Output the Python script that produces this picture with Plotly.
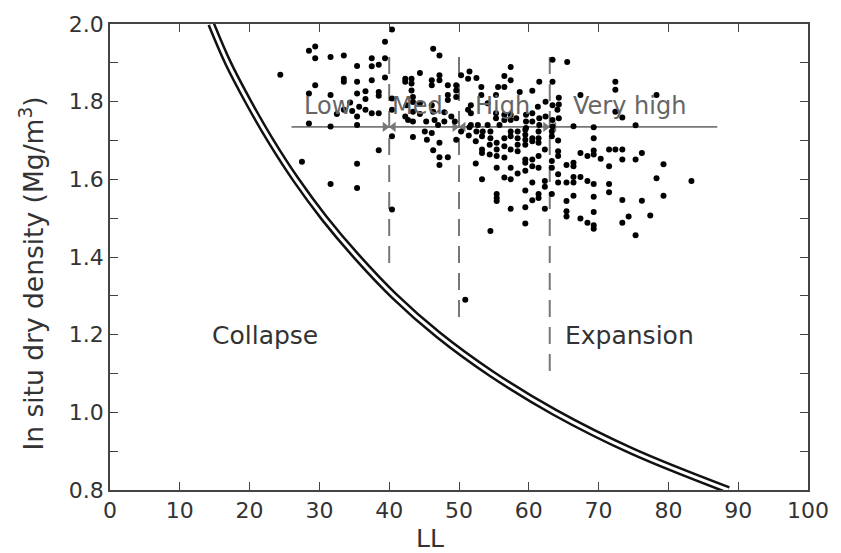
import plotly.graph_objects as go

# ---- data ----
LL = [24.4, 28.5, 29.4, 29.4, 31.6, 33.5, 35.4, 37.5, 38.5, 37.5, 39.4, 39.4, 40.4,
      33.5, 33.5, 35.4, 37.5, 39.4, 29.4, 28.5, 31.6, 35.4, 36.6, 38.5, 38.5, 36.6,
      34.4, 35.7, 33.5, 32.5, 34.7, 35.4, 36.6, 37.5, 38.5, 28.5, 31.6, 35.4, 40.4,
      40.4, 40.4, 42.3, 42.3, 43.2, 43.2, 44.4, 43.2, 42.5, 43.4, 44.4, 42.3, 46.1,
      46.1, 47.2, 47.2, 46.3, 47.2, 43.4, 45.1, 46.1, 48.4, 48.4, 48.4, 46.1, 46.5,
      48.9,
      27.5, 35.4, 31.6, 35.4, 38.5, 40.4, 43.4, 45.4, 47.2, 46.3, 47.2, 48.4, 47.2,
      49.6, 51.4, 52.4, 53.3, 53.3, 53.3, 52.4, 53.3,
      51.5, 52.5, 53.4, 54.5, 54.5, 54.5, 55.4, 55.4, 55.4, 55.4, 55.4, 55.4, 55.4,
      56.5, 56.5, 56.5, 56.5, 57.4, 57.4, 57.4, 57.4, 57.4, 57.4, 58.4, 58.4, 58.4,
      58.4, 58.4, 59.5, 59.5, 59.5, 59.5, 59.5, 59.5, 59.5, 59.5, 59.5, 59.5, 60.5,
      60.5, 60.5, 60.5, 60.5, 60.5, 61.4, 61.4, 61.4, 61.4, 61.4, 61.4, 61.4, 62.3,
      62.3, 62.3, 62.3, 63.3, 63.3, 63.3, 63.3, 63.3, 64.2, 64.2, 64.2, 64.2, 64.2,
      65.4, 65.4, 65.4, 65.4, 65.4, 66.4, 66.4, 66.4, 66.4, 66.4, 66.4, 67.4, 67.4,
      67.4, 68.4, 68.4, 68.4, 69.3, 69.3, 69.3, 69.3, 69.3, 69.3, 69.3, 69.3, 69.3,
      70.3, 71.5, 72.4, 73.4, 71.5, 71.5, 71.5, 73.4, 73.4, 73.4, 74.3, 75.3, 54.4,
      54.4,
      78.3, 73.4, 75.3, 76.2, 75.3, 79.3, 78.3, 83.3, 79.3, 76.2, 77.4,
      50.3, 51.5, 52.5, 57.4, 56.5, 57.4, 63.4, 65.5, 61.5, 63.4, 72.4, 72.4, 53.2,
      55.6, 56.5, 60.5, 67.4, 49.6, 49.6, 49.6, 51.7, 53.2, 55.3, 62.4, 64.3, 64.3,
      63.4, 64.1, 72.4, 47.9, 47.9, 49.4, 51.7, 55.3, 55.3, 56.5, 56.5, 57.4, 57.4,
      59.6, 59.6, 60.5, 60.5, 61.5, 61.5, 63.4, 63.4, 51.7, 52.7, 54.1, 50.3, 47.0,
      51.3, 43.4, 43.4, 44.4, 46.3, 45.3, 42.7, 51.3,
      58.7, 61.3, 54.1, 55.8, 58.2, 59.6, 62.4, 64.3,
      50.9]
RHO = [1.869, 1.931, 1.942, 1.912, 1.915, 1.919, 1.892, 1.912, 1.895, 1.891, 1.912, 1.954, 1.986,
       1.859, 1.851, 1.851, 1.855, 1.862, 1.842, 1.821, 1.817, 1.821, 1.827, 1.825, 1.815, 1.807,
       1.798, 1.787, 1.779, 1.768, 1.776, 1.762, 1.779, 1.770, 1.770, 1.744, 1.736, 1.740, 1.779,
       1.808, 1.711, 1.859, 1.851, 1.859, 1.847, 1.874, 1.829, 1.791, 1.774, 1.768, 1.762, 1.855,
       1.842, 1.868, 1.855, 1.936, 1.919, 1.749, 1.723, 1.719, 1.842, 1.817, 1.804, 1.791, 1.753,
       1.762,
       1.645, 1.640, 1.588, 1.578, 1.675, 1.522, 1.709, 1.702, 1.694, 1.675, 1.657, 1.657, 1.637,
       1.702, 1.713, 1.698, 1.711, 1.677, 1.668, 1.641, 1.600,
       1.734, 1.723, 1.723, 1.723, 1.706, 1.467, 1.694, 1.677, 1.660, 1.630, 1.562, 1.552, 1.544,
       1.706, 1.685, 1.656, 1.605, 1.723, 1.711, 1.677, 1.630, 1.600, 1.524, 1.723, 1.706, 1.689,
       1.672, 1.615, 1.728, 1.715, 1.702, 1.689, 1.651, 1.643, 1.622, 1.571, 1.528, 1.486, 1.706,
       1.698, 1.651, 1.634, 1.592, 1.546, 1.723, 1.706, 1.694, 1.660, 1.630, 1.562, 1.552, 1.677,
       1.596, 1.581, 1.524, 1.723, 1.711, 1.647, 1.630, 1.562, 1.700, 1.672, 1.660, 1.613, 1.592,
       1.637, 1.592, 1.544, 1.518, 1.504, 1.737, 1.643, 1.634, 1.606, 1.592, 1.558, 1.668, 1.606,
       1.499, 1.660, 1.596, 1.488, 1.734, 1.706, 1.674, 1.664, 1.588, 1.555, 1.516, 1.482, 1.473,
       1.653, 1.677, 1.677, 1.677, 1.634, 1.588, 1.567, 1.651, 1.547, 1.488, 1.504, 1.456, 1.689,
       1.664,
       1.817, 1.759, 1.739, 1.668, 1.651, 1.639, 1.603, 1.596, 1.558, 1.545, 1.507,
       1.868, 1.878, 1.861, 1.889, 1.866, 1.855, 1.908, 1.902, 1.851, 1.851, 1.851, 1.831, 1.838,
       1.838, 1.838, 1.828, 1.817, 1.842, 1.829, 1.812, 1.791, 1.817, 1.817, 1.800, 1.810, 1.793,
       1.791, 1.779, 1.774, 1.773, 1.749, 1.749, 1.770, 1.770, 1.757, 1.766, 1.753, 1.766, 1.753,
       1.766, 1.749, 1.770, 1.749, 1.757, 1.740, 1.753, 1.736, 1.740, 1.740, 1.740, 1.723, 1.740,
       1.859, 1.812, 1.799, 1.796, 1.774, 1.749, 1.753, 1.779,
       1.825, 1.787, 1.796, 1.740, 1.757, 1.732, 1.762, 1.757,
       1.290]

# boundary curve (saturated at liquid limit)
CURVE_LL = [14.5, 16.9, 19.8, 23.0, 26.6, 30.7, 35.4, 40.7, 47.0, 54.6, 63.7, 74.8, 88.6]
CURVE_RHO = [2.0, 1.9, 1.8, 1.7, 1.6, 1.5, 1.4, 1.3, 1.2, 1.1, 1.0, 0.9, 0.8]

# class boundaries and the horizontal divider
BOUND_LL = [40, 50, 63]
BOUND_TOP = [1.915, 1.915, 1.915]
BOUND_BOTTOM = [1.379, 1.231, 1.104]
DIVIDER_LL = [26, 87]
DIVIDER_RHO = 1.735

CLASS_LABELS = ["Low", "Med.", "High", "Very high"]
CLASS_LL = [31.2, 44.6, 56.3, 74.4]
CLASS_RHO = 1.789
REGION_LABELS = ["Collapse", "Expansion"]
REGION_LL = [22.2, 74.4]
REGION_RHO = 1.198

X_TICKS = list(range(0, 101, 10))
Y_TICKS = [0.8, 1.0, 1.2, 1.4, 1.6, 1.8, 2.0]
X_TITLE = "LL"
Y_TITLE = "In situ dry density (Mg/m<sup>3</sup>)"

FONT = "DejaVu Sans, Arial, sans-serif"
GREY = "#777777"

fig = go.Figure()

# double boundary curve: thick black line with white core
fig.add_trace(go.Scatter(x=CURVE_LL, y=CURVE_RHO, mode="lines",
                         line=dict(color="#111", width=8, shape="spline"),
                         hoverinfo="skip", showlegend=False))
fig.add_trace(go.Scatter(x=CURVE_LL, y=CURVE_RHO, mode="lines",
                         line=dict(color="white", width=3, shape="spline"),
                         hoverinfo="skip", showlegend=False))

# dashed vertical boundaries
for xb, yt, yb in zip(BOUND_LL, BOUND_TOP, BOUND_BOTTOM):
    fig.add_trace(go.Scatter(x=[xb, xb], y=[yt, yb], mode="lines",
                             line=dict(color=GREY, width=2, dash="17px,10px"),
                             hoverinfo="skip", showlegend=False))

# horizontal divider
fig.add_trace(go.Scatter(x=DIVIDER_LL, y=[DIVIDER_RHO, DIVIDER_RHO], mode="lines",
                         line=dict(color=GREY, width=1.6),
                         hoverinfo="skip", showlegend=False))

# arrowheads pointing at the boundaries
fig.add_trace(go.Scatter(x=[b - 0.6 for b in BOUND_LL], y=[DIVIDER_RHO] * len(BOUND_LL),
                         mode="markers", marker=dict(symbol="triangle-right", size=9, color=GREY),
                         hoverinfo="skip", showlegend=False))
fig.add_trace(go.Scatter(x=[b + 0.6 for b in BOUND_LL], y=[DIVIDER_RHO] * len(BOUND_LL),
                         mode="markers", marker=dict(symbol="triangle-left", size=9, color=GREY),
                         hoverinfo="skip", showlegend=False))

# data points
fig.add_trace(go.Scatter(x=LL, y=RHO, mode="markers",
                         marker=dict(color="black", size=6),
                         showlegend=False))

annotations = []
for txt, xv in zip(CLASS_LABELS, CLASS_LL):
    annotations.append(dict(x=xv, y=CLASS_RHO, xref="x", yref="y", text=txt, showarrow=False,
                            font=dict(family=FONT, size=24, color="#666")))
for txt, xv in zip(REGION_LABELS, REGION_LL):
    annotations.append(dict(x=xv, y=REGION_RHO, xref="x", yref="y", text=txt, showarrow=False,
                            font=dict(family=FONT, size=25, color="#333")))
# axis titles (placed as in the reference, slightly off-centre)
annotations.append(dict(x=0.459, y=-0.105, xref="paper", yref="paper", text=X_TITLE,
                        showarrow=False, xanchor="center", yanchor="middle",
                        font=dict(family=FONT, size=25, color="#333")))
annotations.append(dict(x=-0.112, y=0.464, xref="paper", yref="paper", text=Y_TITLE,
                        textangle=-90, showarrow=False, xanchor="center", yanchor="middle",
                        font=dict(family=FONT, size=26.5, color="#333")))

axis_common = dict(showline=True, linecolor="#444", linewidth=1.5, mirror="ticks",
                   ticks="inside", ticklen=8, tickwidth=1.3, tickcolor="#444",
                   showgrid=False, zeroline=False,
                   tickfont=dict(family=FONT, size=22, color="#333"))

fig.update_layout(
    width=841, height=553,
    margin=dict(l=110, r=29, t=18, b=63),
    paper_bgcolor="white", plot_bgcolor="white",
    font=dict(family=FONT, color="#333"),
    annotations=annotations,
    xaxis=dict(range=[0, 100], tickvals=X_TICKS, **axis_common),
    yaxis=dict(range=[0.8, 2.0], tickvals=Y_TICKS, tickformat=".1f",
               minor=dict(dtick=0.1, ticks="inside", ticklen=8, tickcolor="#444"),
               **axis_common),
)

fig.write_html("out.html")
